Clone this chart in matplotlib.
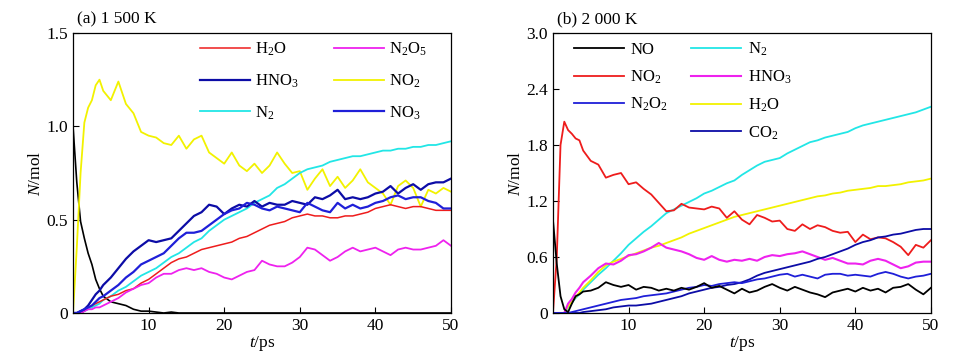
import matplotlib
matplotlib.use("Agg")
import matplotlib.pyplot as plt
from matplotlib.lines import Line2D

plt.rcParams['font.family'] = ['Liberation Serif', 'DejaVu Serif']
plt.rcParams['mathtext.fontset'] = 'custom'
plt.rcParams['mathtext.rm'] = 'Liberation Serif'
plt.rcParams['mathtext.it'] = 'Liberation Serif:italic'
plt.rcParams['mathtext.default'] = 'regular'
plt.rcParams['font.size'] = 12

# time grid (ps), finer at the start
t = [0, 0.5, 1, 1.5, 2, 2.5, 3, 3.5, 4,
     5, 6, 7, 8, 9, 10, 11, 12, 13, 14, 15, 16, 17, 18, 19, 20,
     21, 22, 23, 24, 25, 26, 27, 28, 29, 30, 31, 32, 33, 34, 35,
     36, 37, 38, 39, 40, 41, 42, 43, 44, 45, 46, 47, 48, 49, 50]

# ---- (a) 1 500 K ----
no_a = [1.0, 0.70, 0.49, 0.40, 0.32, 0.26, 0.18, 0.13, 0.09,
        0.06, 0.05, 0.04, 0.02, 0.01, 0.01, 0.005, 0.0, 0.005, 0.0,
        0, 0, 0, 0, 0, 0, 0, 0, 0, 0, 0, 0, 0, 0, 0, 0, 0, 0, 0, 0,
        0, 0, 0, 0, 0, 0, 0, 0, 0, 0, 0, 0, 0, 0, 0, 0]
no2_a = [0, 0.35, 0.75, 1.02, 1.10, 1.14, 1.22, 1.25, 1.19,
         1.14, 1.24, 1.12, 1.07, 0.97, 0.95, 0.94, 0.91, 0.90, 0.95,
         0.88, 0.93, 0.95, 0.86, 0.83, 0.80, 0.86, 0.79, 0.76, 0.80,
         0.75, 0.79, 0.86, 0.80, 0.75, 0.76, 0.66, 0.72, 0.77, 0.68,
         0.73, 0.67, 0.71, 0.77, 0.70, 0.67, 0.64, 0.58, 0.68, 0.71,
         0.67, 0.57, 0.66, 0.64, 0.67, 0.65]
n2_a = [0, 0, 0, 0.01, 0.02, 0.03, 0.04, 0.05, 0.07,
        0.09, 0.12, 0.14, 0.17, 0.20, 0.22, 0.24, 0.27, 0.30, 0.32,
        0.35, 0.38, 0.40, 0.44, 0.47, 0.50, 0.52, 0.54, 0.56, 0.59,
        0.61, 0.63, 0.67, 0.69, 0.72, 0.75, 0.77, 0.78, 0.79, 0.81,
        0.82, 0.83, 0.84, 0.84, 0.85, 0.86, 0.87, 0.87, 0.88, 0.88,
        0.89, 0.89, 0.90, 0.90, 0.91, 0.92]
h2o_a = [0, 0, 0, 0.01, 0.03, 0.04, 0.05, 0.06, 0.07,
         0.09, 0.10, 0.12, 0.13, 0.16, 0.18, 0.21, 0.24, 0.27, 0.29,
         0.30, 0.32, 0.34, 0.35, 0.36, 0.37, 0.38, 0.40, 0.41, 0.43,
         0.45, 0.47, 0.48, 0.49, 0.51, 0.52, 0.53, 0.52, 0.52, 0.51,
         0.51, 0.52, 0.52, 0.53, 0.54, 0.56, 0.57, 0.58, 0.57, 0.56,
         0.57, 0.57, 0.56, 0.55, 0.55, 0.55]
n2o5_a = [0, 0, 0, 0.01, 0.02, 0.02, 0.03, 0.03, 0.04,
          0.06, 0.08, 0.11, 0.13, 0.15, 0.16, 0.19, 0.21, 0.21, 0.23,
          0.24, 0.23, 0.24, 0.22, 0.21, 0.19, 0.18, 0.20, 0.22, 0.23,
          0.28, 0.26, 0.25, 0.25, 0.27, 0.30, 0.35, 0.34, 0.31, 0.28,
          0.30, 0.33, 0.35, 0.33, 0.34, 0.35, 0.33, 0.31, 0.34, 0.35,
          0.34, 0.34, 0.35, 0.36, 0.39, 0.36]
hno3_a = [0, 0, 0.01, 0.02, 0.04, 0.07, 0.10, 0.12, 0.15,
          0.19, 0.24, 0.29, 0.33, 0.36, 0.39, 0.38, 0.39, 0.40, 0.44,
          0.48, 0.52, 0.54, 0.58, 0.57, 0.53, 0.56, 0.58, 0.57, 0.60,
          0.57, 0.59, 0.58, 0.58, 0.60, 0.59, 0.58, 0.62, 0.61, 0.63,
          0.66, 0.61, 0.62, 0.61, 0.62, 0.64, 0.65, 0.68, 0.64, 0.67,
          0.69, 0.66, 0.69, 0.70, 0.70, 0.72]
no3_a = [0, 0, 0.01, 0.02, 0.03, 0.04, 0.06, 0.08, 0.09,
         0.12, 0.15, 0.19, 0.22, 0.26, 0.28, 0.30, 0.32, 0.36, 0.40,
         0.43, 0.43, 0.44, 0.47, 0.50, 0.53, 0.55, 0.56, 0.59, 0.58,
         0.56, 0.55, 0.57, 0.56, 0.55, 0.54, 0.59, 0.57, 0.55, 0.54,
         0.59, 0.56, 0.58, 0.56, 0.57, 0.59, 0.60, 0.62, 0.63, 0.61,
         0.62, 0.62, 0.60, 0.59, 0.56, 0.56]

# ---- (b) 2 000 K ----
no_b = [1.0, 0.53, 0.18, 0.04, 0.01, 0.10, 0.18, 0.20, 0.23,
        0.24, 0.27, 0.33, 0.30, 0.28, 0.30, 0.25, 0.28, 0.27, 0.24,
        0.26, 0.24, 0.27, 0.25, 0.28, 0.32, 0.27, 0.29, 0.25, 0.21,
        0.26, 0.22, 0.24, 0.28, 0.31, 0.27, 0.24, 0.28, 0.25, 0.22,
        0.20, 0.17, 0.22, 0.24, 0.26, 0.23, 0.27, 0.24, 0.26, 0.22,
        0.27, 0.28, 0.31, 0.25, 0.20, 0.27]
no2_b = [0, 0.59, 1.80, 2.05, 1.96, 1.92, 1.87, 1.85, 1.74,
         1.63, 1.59, 1.45, 1.48, 1.50, 1.38, 1.40, 1.33, 1.27, 1.18,
         1.09, 1.10, 1.17, 1.13, 1.12, 1.11, 1.14, 1.12, 1.02, 1.09,
         1.00, 0.95, 1.05, 1.02, 0.98, 0.99, 0.90, 0.88, 0.95, 0.90,
         0.94, 0.92, 0.88, 0.86, 0.87, 0.76, 0.84, 0.79, 0.81, 0.80,
         0.76, 0.71, 0.62, 0.73, 0.70, 0.78]
n2o2_b = [0, 0, 0, 0, 0, 0.01, 0.02, 0.03, 0.04,
          0.06, 0.08, 0.10, 0.12, 0.14, 0.15, 0.16, 0.18, 0.19, 0.20,
          0.21, 0.23, 0.25, 0.27, 0.28, 0.30, 0.29, 0.31, 0.32, 0.33,
          0.32, 0.34, 0.36, 0.37, 0.39, 0.41, 0.42, 0.39, 0.41, 0.39,
          0.37, 0.41, 0.42, 0.42, 0.40, 0.41, 0.40, 0.39, 0.42, 0.44,
          0.42, 0.39, 0.37, 0.39, 0.40, 0.42]
n2_b = [0, 0, 0, 0, 0.06, 0.11, 0.16, 0.20, 0.25,
        0.33, 0.41, 0.48, 0.56, 0.64, 0.73, 0.80, 0.87, 0.93, 1.00,
        1.07, 1.11, 1.15, 1.19, 1.23, 1.28, 1.31, 1.35, 1.39, 1.42,
        1.48, 1.53, 1.58, 1.62, 1.64, 1.66, 1.71, 1.75, 1.79, 1.83,
        1.85, 1.88, 1.90, 1.92, 1.94, 1.98, 2.01, 2.03, 2.05, 2.07,
        2.09, 2.11, 2.13, 2.15, 2.18, 2.21]
hno3_b = [0, 0, 0, 0, 0.10, 0.15, 0.22, 0.27, 0.33,
          0.40, 0.48, 0.53, 0.52, 0.56, 0.62, 0.63, 0.66, 0.70, 0.75,
          0.70, 0.68, 0.66, 0.63, 0.59, 0.57, 0.61, 0.57, 0.55, 0.57,
          0.56, 0.58, 0.56, 0.60, 0.62, 0.61, 0.63, 0.64, 0.66, 0.63,
          0.60, 0.57, 0.59, 0.56, 0.53, 0.53, 0.52, 0.56, 0.58, 0.56,
          0.52, 0.48, 0.50, 0.54, 0.55, 0.55]
h2o_b = [0, 0, 0, 0, 0.07, 0.12, 0.17, 0.22, 0.27,
         0.35, 0.44, 0.51, 0.55, 0.58, 0.61, 0.64, 0.67, 0.70, 0.72,
         0.75, 0.78, 0.81, 0.85, 0.88, 0.91, 0.94, 0.97, 1.00, 1.03,
         1.05, 1.07, 1.09, 1.11, 1.13, 1.15, 1.17, 1.19, 1.21, 1.23,
         1.25, 1.26, 1.28, 1.29, 1.31, 1.32, 1.33, 1.34, 1.36, 1.36,
         1.37, 1.38, 1.40, 1.41, 1.42, 1.44]
co2_b = [0, 0, 0, 0, 0, 0, 0, 0, 0.01,
         0.02, 0.03, 0.04, 0.06, 0.07, 0.08, 0.08, 0.09, 0.10, 0.12,
         0.14, 0.16, 0.18, 0.21, 0.23, 0.25, 0.27, 0.28, 0.30, 0.31,
         0.33, 0.36, 0.40, 0.43, 0.45, 0.47, 0.49, 0.51, 0.53, 0.55,
         0.58, 0.60, 0.63, 0.66, 0.69, 0.73, 0.76, 0.78, 0.81, 0.82,
         0.84, 0.85, 0.87, 0.89, 0.90, 0.90]

RED = '#ee1c1c'
MAG = '#ee22ee'
YEL = '#f2f200'
CYA = '#22e6e6'
NAVY = '#0c0ca6'
BLUE = '#1f1fd8'

fig = plt.figure(figsize=(9.62, 3.58), dpi=100)
ax1 = fig.add_axes([0.0759, 0.1257, 0.3929, 0.7821])
ax2 = fig.add_axes([0.5748, 0.1257, 0.3929, 0.7821])

# panel a
ax1.plot(t, no_a, color='black', lw=1.2)
ax1.plot(t, no2_a, color=YEL, lw=1.3, label='NO$_2$')
ax1.plot(t, n2_a, color=CYA, lw=1.3, label='N$_2$')
ax1.plot(t, h2o_a, color=RED, lw=1.1, label='H$_2$O')
ax1.plot(t, n2o5_a, color=MAG, lw=1.3, label='N$_2$O$_5$')
ax1.plot(t, hno3_a, color=NAVY, lw=1.6, label='HNO$_3$')
ax1.plot(t, no3_a, color=BLUE, lw=1.6, label='NO$_3$')

# panel b
ax2.plot(t, n2_b, color=CYA, lw=1.3, label='N$_2$')
ax2.plot(t, h2o_b, color=YEL, lw=1.3, label='H$_2$O')
ax2.plot(t, no2_b, color=RED, lw=1.3, label='NO$_2$')
ax2.plot(t, hno3_b, color=MAG, lw=1.5, label='HNO$_3$')
ax2.plot(t, co2_b, color=NAVY, lw=1.3, label='CO$_2$')
ax2.plot(t, n2o2_b, color=BLUE, lw=1.3, label='N$_2$O$_2$')
ax2.plot(t, no_b, color='black', lw=1.3, label='NO')


def handles_for(ax, order):
    lines = {l.get_label(): l for l in ax.get_lines()}
    out = []
    for name in order:
        if name is None:
            out.append(Line2D([], [], color='none', label=' '))
        else:
            out.append(lines[name])
    return out


ha = handles_for(ax1, ['H$_2$O', 'HNO$_3$', 'N$_2$',
                       'N$_2$O$_5$', 'NO$_2$', 'NO$_3$'])
ax1.legend(handles=ha, ncol=2, loc='upper left', bbox_to_anchor=(0.297, 1.025),
           frameon=False, handlelength=3.0, labelspacing=0.85,
           columnspacing=2.1, handletextpad=0.3, fontsize=12)

hb = handles_for(ax2, ['NO', 'NO$_2$', 'N$_2$O$_2$', None,
                       'N$_2$', 'HNO$_3$', 'H$_2$O', 'CO$_2$'])
ax2.legend(handles=hb, ncol=2, loc='upper left', bbox_to_anchor=(0.015, 1.025),
           frameon=False, handlelength=3.0, labelspacing=0.62,
           columnspacing=1.4, handletextpad=0.4, fontsize=12)

ax1.set_xlim(0, 50)
ax1.set_ylim(0, 1.5)
ax1.set_yticks([0, 0.5, 1.0, 1.5])
ax1.set_yticklabels(['0', '0.5', '1.0', '1.5'])
ax2.set_xlim(0, 50)
ax2.set_ylim(0, 3.0)
ax2.set_yticks([0, 0.6, 1.2, 1.8, 2.4, 3.0])
ax2.set_yticklabels(['0', '0.6', '1.2', '1.8', '2.4', '3.0'])

for ax, title in [(ax1, '(a) 1 500 K'), (ax2, '(b) 2 000 K')]:
    ax.set_xticks([10, 20, 30, 40, 50])
    ax.tick_params(direction='in', length=4, labelsize=12.5, width=0.8)
    ax.set_xlabel(r'$\mathit{t}$/ps', fontsize=12.5, labelpad=0)
    ax.set_ylabel(r'$\mathit{N}$/mol', fontsize=12.5, labelpad=2)
    ax.text(0.01, 1.02, title, transform=ax.transAxes, fontsize=12.5,
            ha='left', va='bottom')
    for s in ax.spines.values():
        s.set_linewidth(0.9)

fig.savefig('out.png', dpi=100)
